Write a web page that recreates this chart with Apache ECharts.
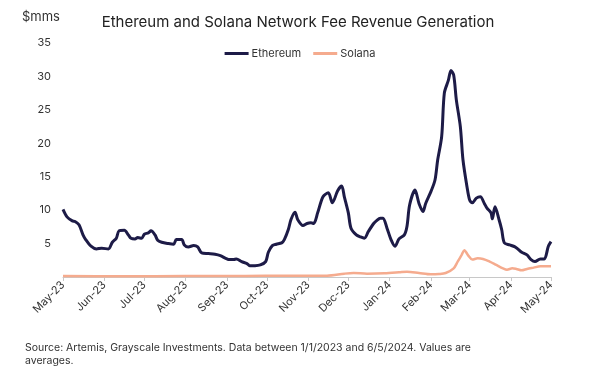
<!DOCTYPE html>
<html style="height: 100%">
<head>
    <meta charset="utf-8">
    <script src="https://cdn.jsdelivr.net/npm/echarts@6/dist/echarts.min.js"></script>
</head>
<body style="height: 100%; margin: 0; background: #fff">
    <div id="main" style="width: 600px; height: 375px"></div>
    <script type="text/javascript">
        var myChart = echarts.init(document.getElementById('main'));

        var monthNames = ['Jan', 'Feb', 'Mar', 'Apr', 'May', 'Jun', 'Jul', 'Aug', 'Sep', 'Oct', 'Nov', 'Dec'];
        var yTicks = [0, 5, 10, 15, 20, 25, 30, 35];

        // Ethereum fee revenue ($mm, 7-day avg)
        var ethDates = [
            '2023-05-01', '2023-05-04', '2023-05-08', '2023-05-10', '2023-05-13', '2023-05-16', '2023-05-18', '2023-05-22',
            '2023-05-26', '2023-05-30', '2023-06-04', '2023-06-07', '2023-06-10', '2023-06-12', '2023-06-16', '2023-06-19',
            '2023-06-21', '2023-06-24', '2023-06-26', '2023-06-29', '2023-07-01', '2023-07-04', '2023-07-06', '2023-07-09',
            '2023-07-11', '2023-07-14', '2023-07-19', '2023-07-23', '2023-07-25', '2023-07-29', '2023-07-31', '2023-08-03',
            '2023-08-07', '2023-08-10', '2023-08-13', '2023-08-18', '2023-08-23', '2023-08-27', '2023-08-31', '2023-09-03',
            '2023-09-06', '2023-09-08', '2023-09-12', '2023-09-16', '2023-09-18', '2023-09-22', '2023-09-26', '2023-09-30',
            '2023-10-02', '2023-10-05', '2023-10-08', '2023-10-12', '2023-10-14', '2023-10-17', '2023-10-19', '2023-10-22',
            '2023-10-24', '2023-10-28', '2023-10-31', '2023-11-03', '2023-11-05', '2023-11-08', '2023-11-12', '2023-11-16',
            '2023-11-19', '2023-11-23', '2023-11-26', '2023-11-28', '2023-12-01', '2023-12-03', '2023-12-07', '2023-12-10',
            '2023-12-13', '2023-12-16', '2023-12-20', '2023-12-22', '2023-12-25', '2023-12-27', '2023-12-30', '2024-01-02',
            '2024-01-05', '2024-01-08', '2024-01-12', '2024-01-14', '2024-01-16', '2024-01-20', '2024-01-23', '2024-01-26',
            '2024-01-28', '2024-02-01', '2024-02-04', '2024-02-06', '2024-02-09', '2024-02-11', '2024-02-14', '2024-02-16',
            '2024-02-18', '2024-02-20', '2024-02-23', '2024-02-25', '2024-02-28', '2024-03-01', '2024-03-03', '2024-03-06',
            '2024-03-09', '2024-03-12', '2024-03-14', '2024-03-17', '2024-03-18', '2024-03-20', '2024-03-23', '2024-03-25',
            '2024-03-27', '2024-03-31', '2024-04-04', '2024-04-06', '2024-04-09', '2024-04-13', '2024-04-16', '2024-04-19',
            '2024-04-23', '2024-04-26', '2024-04-29', '2024-05-01'
        ];
        var ethValues = [
            10.1, 9.0, 8.4, 8.3, 7.8, 6.3, 5.6, 4.6,
            4.2, 4.3, 4.2, 5.2, 5.8, 6.9, 7.0, 6.3,
            5.8, 5.7, 5.9, 5.8, 6.4, 6.6, 6.9, 6.3,
            5.5, 5.2, 5.0, 4.9, 5.6, 5.6, 4.8, 4.5,
            4.7, 4.5, 3.6, 3.5, 3.4, 3.2, 2.8, 2.6,
            2.6, 2.7, 2.3, 2.0, 1.7, 1.7, 1.8, 2.3,
            3.7, 4.7, 4.9, 5.1, 5.6, 7.1, 8.6, 9.7,
            8.6, 7.7, 8.0, 8.1, 8.0, 9.6, 12.0, 12.6,
            11.1, 12.9, 13.6, 12.0, 9.6, 7.3, 6.3, 6.0,
            5.8, 6.8, 8.0, 8.4, 8.8, 8.8, 7.3, 5.6,
            4.6, 5.7, 6.3, 7.6, 10.8, 13.0, 11.0, 9.8,
            11.0, 12.8, 14.5, 17.5, 21.0, 27.5, 29.4, 30.9,
            30.2, 26.5, 22.5, 17.5, 13.5, 11.5, 11.1, 11.8,
            12.0, 11.0, 10.3, 9.6, 8.7, 10.5, 8.6, 7.1,
            5.1, 4.8, 4.5, 4.2, 3.7, 3.3, 2.6, 2.3,
            2.7, 2.7, 4.6, 5.3
        ];

        // Solana fee revenue ($mm, 7-day avg)
        var solDates = [
            '2023-05-01', '2023-06-15', '2023-08-01', '2023-09-15', '2023-10-15', '2023-11-15', '2023-11-28', '2023-12-05',
            '2023-12-15', '2023-12-28', '2024-01-08', '2024-01-14', '2024-01-23', '2024-02-01', '2024-02-07', '2024-02-12',
            '2024-02-18', '2024-02-21', '2024-02-24', '2024-02-26', '2024-02-29', '2024-03-03', '2024-03-07', '2024-03-11',
            '2024-03-16', '2024-03-21', '2024-03-26', '2024-03-29', '2024-04-02', '2024-04-05', '2024-04-09', '2024-04-13',
            '2024-04-18', '2024-04-23', '2024-05-01'
        ];
        var solValues = [
            0.15, 0.1, 0.15, 0.15, 0.2, 0.2, 0.5, 0.6,
            0.5, 0.55, 0.7, 0.8, 0.6, 0.4, 0.45, 0.6,
            1.3, 2.3, 3.3, 4.0, 3.2, 2.6, 2.8, 2.7,
            2.3, 1.8, 1.3, 1.1, 1.3, 1.2, 1.0, 1.2,
            1.4, 1.6, 1.6
        ];

        function pairs(dates, values) {
            return dates.map(function (d, i) { return [d, values[i]]; });
        }

        var option = {
            backgroundColor: '#fff',
            textStyle: { fontFamily: 'Inter' },
            title: {
                text: 'Ethereum and Solana Network Fee Revenue Generation',
                left: 293,
                textAlign: 'center',
                top: 10,
                textStyle: { fontSize: 15, fontWeight: 'normal', color: '#222', fontFamily: 'Inter' }
            },
            legend: {
                top: 43,
                left: 'center',
                itemWidth: 24,
                itemHeight: 3,
                itemGap: 12,
                icon: 'rect',
                textStyle: { fontSize: 11, color: '#333', padding: [0, 0, 0, -2] },
                data: ['Ethereum', 'Solana']
            },
            graphic: [
                { type: 'text', left: 22, top: 11, style: { text: '$mms', fontSize: 13, fill: '#333', fontFamily: 'Inter' } },
                { type: 'text', left: 25, top: 342, style: { text: 'Source: Artemis, Grayscale Investments. Data between 1/1/2023 and 6/5/2024. Values are', fontSize: 10.5, fill: '#333', fontFamily: 'Inter' } },
                { type: 'text', left: 25, top: 355, style: { text: 'averages.', fontSize: 10.5, fill: '#333', fontFamily: 'Inter' } }
            ],
            grid: { left: 63, right: 49, top: 43, bottom: 98 },
            xAxis: {
                type: 'time',
                min: '2023-05-01',
                max: '2024-05-01',
                splitNumber: 12,
                axisLine: { lineStyle: { color: '#c8c8c8', width: 1 } },
                axisTick: { show: true, length: 4, lineStyle: { color: '#c8c8c8' } },
                splitLine: { show: false },
                axisLabel: {
                    rotate: 45,
                    fontSize: 11,
                    color: '#333',
                    margin: 6,
                    showMinLabel: true,
                    showMaxLabel: true,
                    formatter: function (v) {
                        var d = new Date(v);
                        return monthNames[d.getMonth()] + '-' + String(d.getFullYear()).slice(2);
                    }
                }
            },
            yAxis: {
                type: 'value',
                min: yTicks[0],
                max: yTicks[yTicks.length - 1],
                interval: 5,
                axisLine: { show: false },
                axisTick: { show: false },
                splitLine: { show: false },
                axisLabel: {
                    fontSize: 11,
                    color: '#333',
                    margin: 12,
                    formatter: function (v) { return v === 0 ? '' : v; }
                }
            },
            series: [
                {
                    name: 'Ethereum',
                    type: 'line',
                    data: pairs(ethDates, ethValues),
                    smooth: 0.3,
                    showSymbol: false,
                    color: '#1d1b47',
                    lineStyle: { width: 3, color: '#1d1b47' }
                },
                {
                    name: 'Solana',
                    type: 'line',
                    data: pairs(solDates, solValues),
                    smooth: 0.3,
                    showSymbol: false,
                    color: '#f5ab8e',
                    lineStyle: { width: 2.5, color: '#f5ab8e' }
                }
            ]
        };

        myChart.setOption(option);
    </script>
</body>
</html>
